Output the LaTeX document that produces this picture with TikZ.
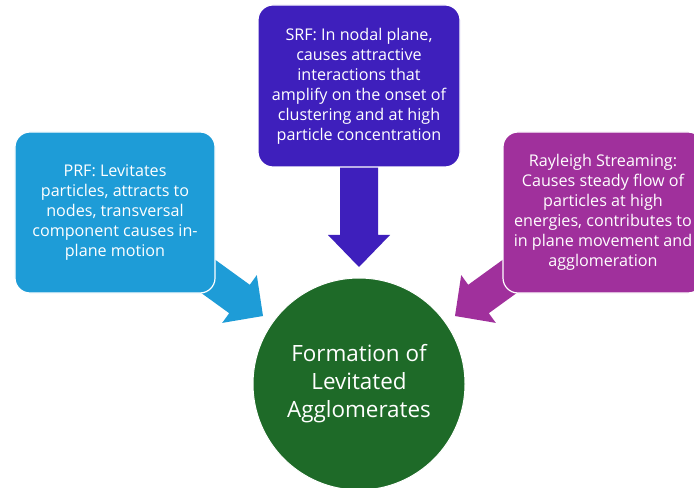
\documentclass[tikz,border=0pt]{standalone}
\usepackage{fontspec}
\setmainfont{Open Sans}
\definecolor{prfblue}{RGB}{30,156,215}
\definecolor{srfindigo}{RGB}{62,31,188}
\definecolor{raypurple}{RGB}{160,48,156}
\definecolor{circgreen}{RGB}{30,106,40}
\begin{document}
\begin{tikzpicture}[x=1bp,y=-1bp,
  infobox/.style={rounded corners=15bp, draw=white, line width=1.2bp, align=center,
    text=white, inner sep=0pt, font=\fontsize{16.2}{20}\selectfont},
  blockarrow/.style={draw=none}
]
\useasboundingbox (0,0) rectangle (694,488);
\clip (0,0) rectangle (694,488);
\fill[white] (0,0) rectangle (694,488);

% arrows (drawn behind boxes)
\fill[prfblue] (164.4,266.3) -- (185.0,237.9) -- (249.8,284.8) -- (256.8,275.1)
  -- (263,316) -- (222.2,322.9) -- (229.2,313.2) -- cycle;
\fill[raypurple] (553.6,266.3) -- (533.0,237.9) -- (468.2,284.8) -- (461.2,275.1)
  -- (455,316) -- (495.8,322.9) -- (488.8,313.2) -- cycle;
\fill[srfindigo] (340,150) -- (378,150) -- (378,235) -- (390,235) -- (359,267)
  -- (328,235) -- (340,235) -- cycle;

% boxes
\node[infobox, fill=prfblue, minimum width=200bp, minimum height=161bp] (prf) at (115,212.5)
  {PRF: Levitates\\particles, attracts to\\nodes, transversal\\component causes in-\\plane motion};
\node[infobox, fill=srfindigo, minimum width=202bp, minimum height=162bp] (srf) at (359,86)
  {SRF: In nodal plane,\\causes attractive\\interactions that\\amplify on the onset of\\clustering and at high\\particle concentration};
\node[infobox, fill=raypurple, minimum width=200bp, minimum height=161bp] (ray) at (603,212.5)
  {Rayleigh Streaming:\\Causes steady flow of\\particles at high\\energies, contributes to\\in plane movement and\\agglomeration};

% circle
\node[circle, fill=circgreen, draw=white, line width=1bp, minimum size=212bp, inner sep=0pt,
  align=center, text=white, font=\fontsize{22.5}{28}\selectfont] (goal) at (359,384)
  {Formation of\\Levitated\\Agglomerates};
\end{tikzpicture}
\end{document}
